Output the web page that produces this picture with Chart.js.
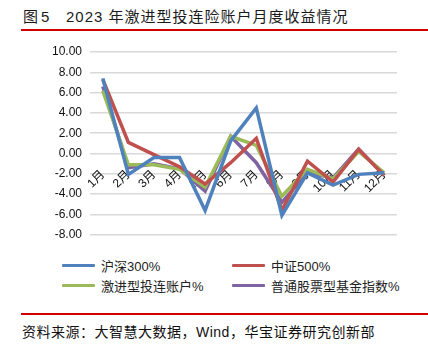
<!DOCTYPE html>
<html>
<head>
<meta charset="utf-8">
<script src="https://cdn.jsdelivr.net/npm/chart.js@4.4.0/dist/chart.umd.min.js"></script>
<style>
  body { margin: 0; background: #fff; width: 428px; height: 347px; position: relative; overflow: hidden;
         font-family: "Liberation Sans", "Noto Sans CJK SC", sans-serif; color: #111; }
  .abs { position: absolute; white-space: nowrap; }
  #title { top: 8px; left: 23px; font-size: 15px; letter-spacing: 1px; line-height: 18px; color: #1a1a1a; }
  #title span { display: inline-block; }
  .rule { position: absolute; left: 21px; right: 0; height: 2px; background: #d40000; }
  #chartBox { position: absolute; left: 0; top: 0; width: 428px; height: 250px; }
  .leg { position: absolute; font-size: 13px; display: flex; align-items: center; color: #222; }
  .leg span.ln { display: inline-block; width: 33px; height: 3px; margin-right: 6px; border-radius: 1px; }
  #source { top: 321px; left: 22px; font-size: 14px; letter-spacing: 0.5px; }
</style>
</head>
<body>
<div class="abs" id="title"><span style="width:18px">图</span><span style="width:25px">5</span><span>2023 年激进型投连险账户月度收益情况</span></div>
<div class="rule" style="top:29px"></div>
<div id="chartBox"><canvas id="myChart" width="428" height="250"></canvas></div>
<div id="legend"></div>
<div class="rule" style="top:313px"></div>
<div class="abs" id="source">资料来源：大智慧大数据，Wind，华宝证券研究创新部</div>
<script>
// months on the x axis
var months = ['1月', '2月', '3月', '4月', '5月', '6月', '7月', '8月', '9月', '10月', '11月', '12月'];

// monthly returns (%)
var hs300 = [7.4, -2.05, -0.4, -0.4, -5.6, 1.25, 4.5, -6.1, -1.9, -3.1, -2.05, -1.9];
var zz500 = [7.3, 1.1, -0.1, -1.3, -3.0, -0.9, 1.5, -5.6, -0.75, -2.8, 0.4, -2.15];
var aggressive = [6.2, -1.1, -1.1, -1.55, -3.3, 1.7, 0.8, -4.2, -1.55, -2.5, 0.2, -1.9];
var stockFund = [6.6, -1.4, -1.0, -1.5, -3.7, 1.7, -0.9, -4.8, -1.9, -2.4, 0.45, -2.15];

var seriesNames = ['沪深300%', '中证500%', '激进型投连账户%', '普通股票型基金指数%'];
var seriesColors = ['#4f81bd', '#c0504d', '#9bbb59', '#8064a2'];
var seriesData = [hs300, zz500, aggressive, stockFund];

var datasets = seriesData.map(function (d, i) {
    return {
        label: seriesNames[i],
        data: d,
        borderColor: seriesColors[i],
        backgroundColor: seriesColors[i],
        borderWidth: 3.5,
        pointRadius: 0,
        tension: 0,
        fill: false
    };
});

var ctx = document.getElementById('myChart').getContext('2d');
var myChart = new Chart(ctx, {
    type: 'line',
    data: { labels: months, datasets: datasets },
    options: {
        responsive: false,
        animation: false,
        layout: { padding: { top: 52, bottom: 11, right: 31, left: 0 } },
        plugins: { legend: { display: false }, tooltip: { enabled: false } },
        scales: {
            x: {
                position: { y: 0 },
                offset: true,
                grid: { display: false },
                border: { display: false },
                ticks: {
                    minRotation: 45, maxRotation: 45, padding: 6,
                    color: '#111',
                    font: { size: 12, family: '"Liberation Sans", "Noto Sans CJK SC"' }
                }
            },
            y: {
                min: -8, max: 10,
                afterFit: function (scale) { scale.width = 90; },
                grid: { color: '#d9d9d9', lineWidth: 1.5, drawTicks: false },
                border: { display: false },
                ticks: {
                    stepSize: 2, padding: 8, color: '#111',
                    font: { size: 12, family: '"Liberation Sans"' },
                    callback: function (v) { return v.toFixed(2); }
                }
            }
        }
    }
});

// two-column legend below the chart
var legendPos = [[62, 256], [232, 256], [62, 276], [232, 276]];
var legend = document.getElementById('legend');
seriesNames.forEach(function (name, i) {
    var item = document.createElement('div');
    item.className = 'leg';
    item.style.left = legendPos[i][0] + 'px';
    item.style.top = legendPos[i][1] + 'px';
    item.innerHTML = '<span class="ln" style="background:' + seriesColors[i] + '"></span>' + name;
    legend.appendChild(item);
});
</script>
</body>
</html>
